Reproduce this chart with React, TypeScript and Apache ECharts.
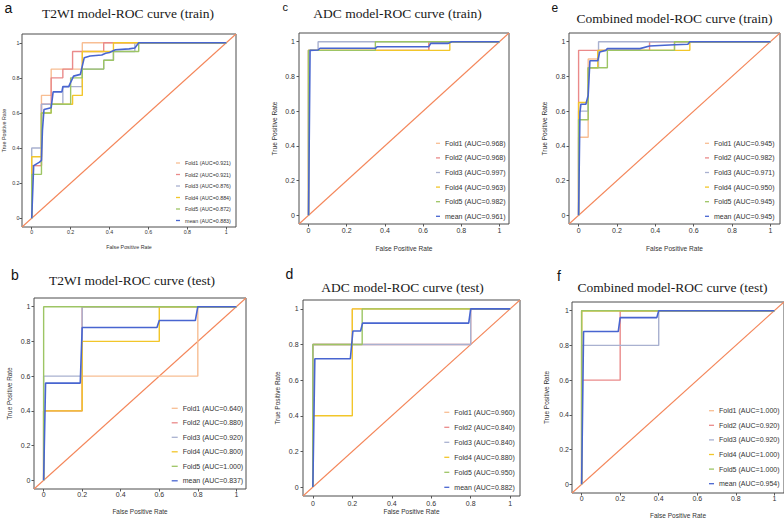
import React, { useEffect, useRef } from "react";
import * as echarts from "echarts";

// ---------- shared ----------
const TICKS = [0, 0.2, 0.4, 0.6, 0.8, 1];
const DIAGONAL = [[-0.05, -0.05], [1.05, 1.05]];
const CURVE_NAMES = ["Fold1", "Fold2", "Fold3", "Fold4", "Fold5", "mean"];
const CURVE_COLORS = ["#F8BE93", "#EA8A8A", "#A9B1D0", "#F2C62A", "#9DC564", "#4865D0"];
const DIAG_COLOR = "#F4875B";
const X_NAME = "False Positive Rate";
const Y_NAME = "True Positive Rate";

// ---------- a: T2WI train ----------
const aTitle = "T2WI model-ROC curve (train)";
const aAUC = ["0.921", "0.921", "0.876", "0.884", "0.872", "0.883"];
const aFold1 = [[0, 0], [0, 0.3], [0.05, 0.3], [0.05, 0.7], [0.1, 0.7], [0.1, 0.85], [0.26, 0.85], [0.26, 1], [1, 1]];
const aFold2 = [[0, 0], [0, 0.3], [0.05, 0.3], [0.05, 0.65], [0.1, 0.65], [0.1, 0.8], [0.16, 0.8], [0.16, 0.85], [0.21, 0.85], [0.21, 0.95], [0.37, 0.95], [0.37, 1], [1, 1]];
const aFold3 = [[0, 0], [0, 0.4], [0.05, 0.4], [0.05, 0.65], [0.16, 0.65], [0.16, 0.75], [0.26, 0.75], [0.26, 0.85], [0.37, 0.85], [0.37, 0.9], [0.42, 0.9], [0.42, 0.95], [0.53, 0.95], [0.53, 1], [1, 1]];
const aFold4 = [[0, 0], [0, 0.35], [0.05, 0.35], [0.05, 0.6], [0.1, 0.6], [0.1, 0.65], [0.21, 0.65], [0.21, 0.7], [0.26, 0.7], [0.26, 0.95], [0.42, 0.95], [0.42, 1], [1, 1]];
const aFold5 = [[0, 0], [0, 0.25], [0.05, 0.25], [0.05, 0.6], [0.1, 0.6], [0.1, 0.65], [0.2, 0.65], [0.2, 0.8], [0.26, 0.8], [0.26, 0.85], [0.37, 0.85], [0.37, 0.9], [0.42, 0.9], [0.42, 0.95], [0.55, 0.95], [0.55, 1], [1, 1]];
const aMean = [[0, 0], [0.01, 0.3], [0.04, 0.32], [0.05, 0.33], [0.055, 0.5], [0.063, 0.62], [0.1, 0.63], [0.11, 0.72], [0.155, 0.72], [0.16, 0.75], [0.19, 0.75], [0.215, 0.81], [0.25, 0.82], [0.27, 0.915], [0.3, 0.925], [0.36, 0.93], [0.38, 0.94], [0.4, 0.945], [0.43, 0.96], [0.5, 0.965], [0.53, 0.97], [0.55, 1], [1, 1]];

// ---------- b: T2WI test ----------
const bTitle = "T2WI model-ROC curve (test)";
const bAUC = ["0.640", "0.880", "0.920", "0.800", "1.000", "0.837"];
const bFold1 = [[0, 0], [0, 0.4], [0.2, 0.4], [0.2, 0.6], [0.8, 0.6], [0.8, 1], [1, 1]];
const bFold2 = [[0, 0], [0, 0.4], [0.2, 0.4], [0.2, 1], [1, 1]];
const bFold3 = [[0, 0], [0, 0.6], [0.2, 0.6], [0.2, 1], [1, 1]];
const bFold4 = [[0, 0], [0, 0.4], [0.2, 0.4], [0.2, 0.8], [0.6, 0.8], [0.6, 1], [1, 1]];
const bFold5 = [[0, 0], [0, 1], [1, 1]];
const bMean = [[0, 0], [0.01, 0.56], [0.19, 0.56], [0.2, 0.88], [0.588, 0.88], [0.6, 0.92], [0.787, 0.92], [0.8, 1], [1, 1]];

// ---------- c: ADC train ----------
const cTitle = "ADC model-ROC curve (train)";
const cAUC = ["0.968", "0.968", "0.997", "0.963", "0.982", "0.961"];
const cFold1 = [[0, 0], [0, 0.95], [0.63, 0.95], [0.63, 1], [1, 1]];
const cFold2 = [[0, 0], [0, 0.95], [0.63, 0.95], [0.63, 1], [1, 1]];
const cFold3 = [[0, 0], [0, 0.95], [0.05, 0.95], [0.05, 1], [1, 1]];
const cFold4 = [[0, 0], [0, 0.95], [0.74, 0.95], [0.74, 1], [1, 1]];
const cFold5 = [[0, 0], [0, 0.95], [0.35, 0.95], [0.35, 1], [1, 1]];
const cMean = [[0, 0], [0.008, 0.95], [0.05, 0.952], [0.06, 0.962], [0.35, 0.962], [0.36, 0.971], [0.63, 0.971], [0.64, 0.99], [0.73, 0.99], [0.75, 1], [1, 1]];

// ---------- d: ADC test ----------
const dTitle = "ADC model-ROC curve (test)";
const dAUC = ["0.960", "0.840", "0.840", "0.880", "0.950", "0.882"];
const dFold1 = [[0, 0], [0, 0.8], [0.2, 0.8], [0.2, 1], [1, 1]];
const dFold2 = [[0, 0], [0, 0.8], [0.8, 0.8], [0.8, 1], [1, 1]];
const dFold3 = [[0, 0], [0, 0.8], [0.8, 0.8], [0.8, 1], [1, 1]];
const dFold4 = [[0, 0], [0, 0.4], [0.2, 0.4], [0.2, 1], [1, 1]];
const dFold5 = [[0, 0], [0, 0.8], [0.25, 0.8], [0.25, 1], [1, 1]];
const dMean = [[0, 0], [0.01, 0.72], [0.19, 0.72], [0.203, 0.876], [0.242, 0.876], [0.252, 0.92], [0.79, 0.92], [0.8, 1], [1, 1]];

// ---------- e: Combined train ----------
const eTitle = "Combined model-ROC curve (train)";
const eAUC = ["0.945", "0.982", "0.971", "0.950", "0.945", "0.945"];
const eFold1 = [[0, 0], [0, 0.45], [0.05, 0.45], [0.05, 0.9], [0.1, 0.9], [0.1, 0.95], [0.5, 0.95], [0.5, 1], [1, 1]];
const eFold2 = [[0, 0], [0, 0.95], [0.37, 0.95], [0.37, 1], [1, 1]];
const eFold3 = [[0, 0], [0, 0.6], [0.05, 0.6], [0.05, 0.85], [0.104, 0.85], [0.104, 1], [1, 1]];
const eFold4 = [[0, 0], [0, 0.65], [0.05, 0.65], [0.05, 0.85], [0.1, 0.85], [0.1, 0.95], [0.58, 0.95], [0.58, 1], [1, 1]];
const eFold5 = [[0, 0], [0, 0.55], [0.05, 0.55], [0.05, 0.85], [0.15, 0.85], [0.15, 0.95], [0.5, 0.95], [0.5, 1], [1, 1]];
const eMean = [[0, 0], [0.007, 0.59], [0.012, 0.64], [0.038, 0.64], [0.05, 0.69], [0.059, 0.89], [0.1, 0.89], [0.11, 0.94], [0.142, 0.95], [0.15, 0.96], [0.32, 0.96], [0.37, 0.975], [0.5, 0.982], [0.57, 0.985], [0.58, 1], [1, 1]];

// ---------- f: Combined test ----------
const fTitle = "Combined model-ROC curve (test)";
const fAUC = ["1.000", "0.920", "0.920", "1.000", "1.000", "0.954"];
const fFold1 = [[0, 0], [0, 1], [1, 1]];
const fFold2 = [[0, 0], [0, 0.6], [0.2, 0.6], [0.2, 1], [1, 1]];
const fFold3 = [[0, 0], [0, 0.8], [0.4, 0.8], [0.4, 1], [1, 1]];
const fFold4 = [[0, 0], [0, 1], [1, 1]];
const fFold5 = [[0, 0], [0, 1], [1, 1]];
const fMean = [[0, 0], [0.01, 0.88], [0.19, 0.88], [0.2, 0.96], [0.39, 0.96], [0.4, 1], [1, 1]];

const PANEL_DATA = [
  { key: "a", title: aTitle, auc: aAUC, curves: [aFold1, aFold2, aFold3, aFold4, aFold5, aMean] },
  { key: "b", title: bTitle, auc: bAUC, curves: [bFold1, bFold2, bFold3, bFold4, bFold5, bMean] },
  { key: "c", title: cTitle, auc: cAUC, curves: [cFold1, cFold2, cFold3, cFold4, cFold5, cMean] },
  { key: "d", title: dTitle, auc: dAUC, curves: [dFold1, dFold2, dFold3, dFold4, dFold5, dMean] },
  { key: "e", title: eTitle, auc: eAUC, curves: [eFold1, eFold2, eFold3, eFold4, eFold5, eMean] },
  { key: "f", title: fTitle, auc: fAUC, curves: [fFold1, fFold2, fFold3, fFold4, fFold5, fMean] },
];

// ---------- layout (positions / sizes only) ----------
const LAYOUT: Record<string, any> = {
  a: { grid: [22, 34, 214, 193], titleXY: [128, 6.8], letterXY: [4.5, 0.5], letterFs: 14, legend: [176, 159, 4, 3.5, 8], fs: 5.3, nameFs: 5.3, xm: 2, ym: 2.5, xng: 17.7, yng: 15.8 },
  c: { grid: [299, 33, 210, 191], titleXY: [397.5, 6.8], letterXY: [282.5, 1.9], letterFs: 11, legend: [436, 138.3, 4, 4.6, 10], fs: 7, nameFs: 6.6, xm: 3, ym: 4, xng: 21, yng: 21 },
  e: { grid: [569, 33, 211, 191], titleXY: [674.5, 11.8], letterXY: [551.5, 1.6], letterFs: 12, legend: [705, 138.3, 4, 4.6, 10], fs: 7, nameFs: 6.6, xm: 3, ym: 3.5, xng: 21, yng: 20.7 },
  b: { grid: [34, 298, 212, 191], titleXY: [132, 273.5], letterXY: [11, 268], letterFs: 14, legend: [171.7, 403.3, 6, 4.5, 10], fs: 7, nameFs: 6.4, xm: 2, ym: 3.5, xng: 19.7, yng: 21.4 },
  d: { grid: [303, 300, 217, 196], titleXY: [402.5, 280], letterXY: [285.5, 267.2], letterFs: 14, legend: [444.3, 407.3, 5, 5, 10], fs: 7, nameFs: 6.5, xm: 4, ym: 4.4, xng: 11.8, yng: 22.3 },
  f: { grid: [572, 302, 212, 191], titleXY: [672.5, 280.5], letterXY: [557, 268.9], letterFs: 14, legend: [709, 405.7, 5, 4.6, 10], fs: 7, nameFs: 6.5, xm: 2, ym: 3, xng: 19, yng: 21.6 },
};

const SANS = "'Liberation Sans', Arial, sans-serif";
const SERIF = "'Liberation Serif', 'Times New Roman', serif";

function buildOption() {
  const grid: any[] = [];
  const xAxis: any[] = [];
  const yAxis: any[] = [];
  const series: any[] = [];
  const legend: any[] = [];
  const graphic: any[] = [];

  PANEL_DATA.forEach((p, i) => {
    const L = LAYOUT[p.key];
    const [gl, gt, gw, gh] = L.grid;
    grid.push({ left: gl, top: gt, width: gw, height: gh, show: true, borderColor: "#4d4d4d", borderWidth: 1, backgroundColor: "#fff" });
    const axisCommon = {
      type: "value",
      gridIndex: i,
      min: -0.05,
      max: 1.05,
      splitLine: { show: false },
      axisLine: { show: false, onZero: false },
      axisTick: { show: true, inside: false, length: 2.5, customValues: TICKS, lineStyle: { color: "#555", width: 1 } },
      nameLocation: "middle",
      nameMoveOverlap: false,
      nameTextStyle: { fontSize: L.nameFs, fontFamily: SANS, color: "#333" },
    };
    xAxis.push({
      ...axisCommon,
      name: X_NAME,
      nameGap: L.xng,
      axisLabel: { customValues: TICKS, fontSize: L.fs, fontFamily: SANS, color: "#333", margin: L.xm, formatter: (v: number) => String(+v.toFixed(1)) },
    });
    yAxis.push({
      ...axisCommon,
      name: Y_NAME,
      nameGap: L.yng,
      axisLabel: { customValues: TICKS, fontSize: L.fs, fontFamily: SANS, color: "#333", margin: L.ym, formatter: (v: number) => String(+v.toFixed(1)) },
    });

    series.push({
      type: "line",
      name: p.key + "|diagonal",
      xAxisIndex: i,
      yAxisIndex: i,
      data: DIAGONAL,
      symbol: "none",
      showSymbol: false,
      silent: true,
      lineStyle: { color: DIAG_COLOR, width: 1.1 },
      itemStyle: { color: DIAG_COLOR },
      z: 2,
    });

    const names: string[] = [];
    p.curves.forEach((curve, k) => {
      const nm = `${p.key}|${CURVE_NAMES[k]} (AUC=${p.auc[k]})`;
      names.push(nm);
      series.push({
        type: "line",
        name: nm,
        xAxisIndex: i,
        yAxisIndex: i,
        data: curve,
        symbol: "none",
        showSymbol: false,
        silent: true,
        lineStyle: { color: CURVE_COLORS[k], width: k === 5 ? 1.6 : 1.4 },
        itemStyle: { color: CURVE_COLORS[k] },
        z: 3 + k,
      });
    });

    const [lx, ly, iw, gap, lh] = L.legend;
    legend.push({
      orient: "vertical",
      left: lx,
      top: ly,
      padding: 0,
      itemGap: gap,
      itemWidth: iw,
      itemHeight: 1.3,
      icon: "rect",
      selectedMode: false,
      data: names,
      formatter: (n: string) => n.split("|")[1],
      textStyle: { fontSize: L.fs, fontFamily: SANS, color: "#333", lineHeight: lh },
    });

    graphic.push({
      type: "text",
      x: L.titleXY[0],
      y: L.titleXY[1],
      style: { text: p.title, fontSize: 13.5, fontWeight: "normal", fontFamily: SERIF, fill: "#1a1a1a", textAlign: "center", textVerticalAlign: "top" },
    });
    graphic.push({
      type: "text",
      x: L.letterXY[0],
      y: L.letterXY[1],
      style: { text: p.key, fontSize: L.letterFs, fontWeight: "normal", fontFamily: SANS, fill: "#111", textAlign: "left", textVerticalAlign: "top" },
    });
  });

  return {
    animation: false,
    backgroundColor: "#fff",
    grid,
    xAxis,
    yAxis,
    series,
    legend,
    graphic,
  };
}

export default function App() {
  const ref = useRef<HTMLDivElement>(null);
  useEffect(() => {
    if (!ref.current) return;
    const chart = echarts.init(ref.current, undefined, { renderer: "svg" });
    chart.setOption(buildOption() as any);
    return () => chart.dispose();
  }, []);
  return (
    <div
      ref={ref}
      style={{ position: "absolute", left: 0, top: 0, width: 784, height: 524, background: "#fff" }}
    />
  );
}
